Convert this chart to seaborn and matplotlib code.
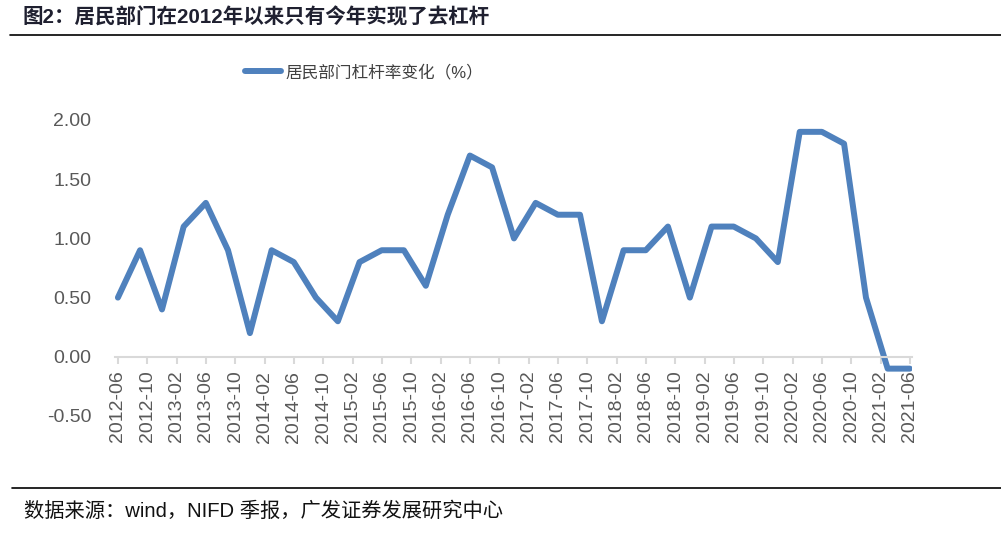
import pandas as pd
import matplotlib
matplotlib.use("Agg")
import matplotlib.pyplot as plt
import matplotlib.dates as mdates
from matplotlib.lines import Line2D
import seaborn as sns

# quarterly household leverage change
quarters = ["2012-06", "2012-09", "2012-12",
            "2013-03", "2013-06", "2013-09", "2013-12",
            "2014-03", "2014-06", "2014-09", "2014-12",
            "2015-03", "2015-06", "2015-09", "2015-12",
            "2016-03", "2016-06", "2016-09", "2016-12",
            "2017-03", "2017-06", "2017-09", "2017-12",
            "2018-03", "2018-06", "2018-09", "2018-12",
            "2019-03", "2019-06", "2019-09", "2019-12",
            "2020-03", "2020-06", "2020-09", "2020-12",
            "2021-03", "2021-06"]
leverage_change = [0.5, 0.9, 0.4,
                   1.1, 1.3, 0.9, 0.2,
                   0.9, 0.8, 0.5, 0.3,
                   0.8, 0.9, 0.9, 0.6,
                   1.2, 1.7, 1.6, 1.0,
                   1.3, 1.2, 1.2, 0.3,
                   0.9, 0.9, 1.1, 0.5,
                   1.1, 1.1, 1.0, 0.8,
                   1.9, 1.9, 1.8, 0.5,
                   -0.1, -0.1]
y_ticks = [-0.5, 0.0, 0.5, 1.0, 1.5, 2.0]

series_name = "居民部门杠杆率变化（%）"
title = "图2：居民部门在2012年以来只有今年实现了去杠杆"
source = "数据来源：wind，NIFD 季报，广发证券发展研究中心"

df = pd.DataFrame({"date": pd.to_datetime(quarters), "value": leverage_change})

sns.set_theme(style="white")
plt.rcParams["font.family"] = ["Liberation Sans", "Noto Sans CJK SC", "DejaVu Sans"]

W, H = 1001, 548
fig = plt.figure(figsize=(W / 100, H / 100), dpi=100)
ax = fig.add_axes([115 / W, 1 - 416 / H, (912 - 115) / W, (416 - 120) / H])

sns.lineplot(data=df, x="date", y="value", ax=ax, color="#4F81BD",
             linewidth=4.3, label=series_name)

ax.set_xlim(pd.Timestamp("2012-05-20"), pd.Timestamp("2021-06-10"))
ax.set_ylim(-0.5, 2.0)
ax.set_yticks(y_ticks)
ax.set_yticklabels([f"{v:.2f}" for v in y_ticks])
ax.set_xlabel("")
ax.set_ylabel("")

ax.xaxis.set_major_locator(mdates.MonthLocator(bymonth=(2, 6, 10)))
ax.xaxis.set_major_formatter(mdates.DateFormatter("%Y-%m"))

for s in ["top", "right", "left"]:
    ax.spines[s].set_visible(False)
ax.spines["bottom"].set_position(("data", 0))
ax.spines["bottom"].set_color("#D9D9D9")
ax.spines["bottom"].set_linewidth(1.5)

ax.tick_params(axis="x", bottom=True, length=5, width=1.5, color="#D9D9D9",
               direction="out", labelsize=14, labelcolor="#595959", pad=5,
               labelrotation=90)
ax.tick_params(axis="y", left=False, length=0, labelsize=14,
               labelcolor="#595959", pad=17)
ax.grid(False)

leg = ax.legend(loc="center", bbox_to_anchor=(364 / W, 1 - 72 / H),
                bbox_transform=fig.transFigure, frameon=False,
                fontsize=12, handlelength=2.2, handletextpad=0.25)
for t in leg.get_texts():
    t.set_color("#404040")

fig.text(22 / W, 1 - 17 / H, title, fontsize=14.8, fontweight="bold",
         color="#1F2030", va="center", ha="left")
fig.add_artist(Line2D([10 / W, 1.0], [1 - 35 / H, 1 - 35 / H],
                      color="black", linewidth=1.2))
fig.add_artist(Line2D([12 / W, 1.0], [1 - 488 / H, 1 - 488 / H],
                      color="black", linewidth=1.2))
fig.text(24 / W, 1 - 511 / H, source, fontsize=14.6, color="#111111",
         va="center", ha="left")

fig.savefig("out.png", dpi=100)
